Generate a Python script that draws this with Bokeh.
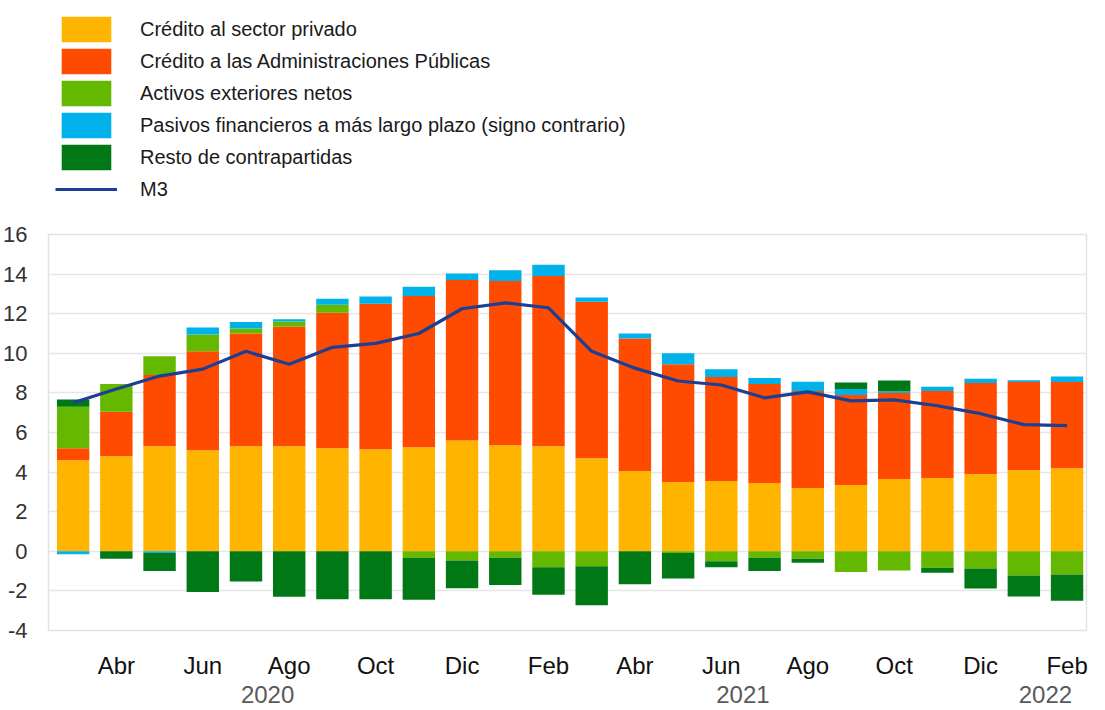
import numpy as np
from bokeh.plotting import figure
from bokeh.layouts import column
from bokeh.models import (ColumnDataSource, FixedTicker, LinearAxis, Legend,
                          LegendItem, Range1d)
from bokeh.embed import file_html
from bokeh.resources import INLINE

# ---------------- data ----------------
months = ["Mar", "Abr", "May", "Jun", "Jul", "Ago", "Sep", "Oct", "Nov", "Dic",
          "Ene", "Feb", "Mar", "Abr", "May", "Jun", "Jul", "Ago", "Sep", "Oct",
          "Nov", "Dic", "Ene", "Feb"]
year_labels = ["2020", "2021", "2022"]
year_pos = [4.5, 15.5, 22.5]

credito_privado = [4.6, 4.8, 5.3, 5.1, 5.3, 5.3, 5.2, 5.15, 5.25, 5.6, 5.35, 5.3,
                   4.7, 4.05, 3.5, 3.55, 3.45, 3.2, 3.35, 3.65, 3.7, 3.9, 4.1, 4.2]
credito_aapp = [0.6, 2.25, 3.6, 5.0, 5.7, 6.05, 6.85, 7.35, 7.65, 8.1, 8.3, 8.6,
                7.9, 6.7, 5.95, 5.25, 5.0, 4.9, 4.55, 4.35, 4.4, 4.6, 4.45, 4.35]
activos_ext = [2.1, 1.4, 0.95, 0.85, 0.25, 0.25, 0.4, 0.0, -0.33, -0.47, -0.33, -0.8,
               -0.75, 0.0, -0.08, -0.5, -0.33, -0.38, -1.05, -0.97, -0.83, -0.87, -1.22, -1.17]
pasivos_lp = [-0.15, 0.0, -0.08, 0.35, 0.33, 0.12, 0.3, 0.37, 0.46, 0.33, 0.55, 0.57,
              0.22, 0.25, 0.55, 0.39, 0.3, 0.46, 0.3, 0.08, 0.21, 0.22, 0.09, 0.28]
resto = [0.37, -0.38, -0.92, -2.05, -1.53, -2.3, -2.42, -2.42, -2.12, -1.4, -1.37, -1.4,
         -1.97, -1.67, -1.3, -0.3, -0.67, -0.2, 0.33, 0.54, -0.25, -1.01, -1.06, -1.33]
m3 = [7.5, 8.2, 8.85, 9.2, 10.1, 9.45, 10.3, 10.5, 11.0, 12.25, 12.55, 12.3,
      10.1, 9.25, 8.6, 8.4, 7.75, 8.05, 7.6, 7.65, 7.35, 6.95, 6.4, 6.35]

series = {
    "priv": ("Crédito al sector privado", credito_privado, "#FFB400"),
    "gov": ("Crédito a las Administraciones Públicas", credito_aapp, "#FF4B00"),
    "ext": ("Activos exteriores netos", activos_ext, "#65B800"),
    "pas": ("Pasivos financieros a más largo plazo (signo contrario)", pasivos_lp, "#00B1EA"),
    "rest": ("Resto de contrapartidas", resto, "#007816"),
}
M3_LABEL = "M3"
M3_COLOR = "#1C3F94"
pos_order = ["priv", "gov", "ext", "pas", "rest"]
neg_order = ["priv", "gov", "pas", "ext", "rest"]
legend_order = ["priv", "gov", "ext", "pas", "rest"]

n = len(months)
x = np.arange(n)

# stacked bottoms / tops (positives up from 0, negatives down from 0)
bounds = {}
acc = np.zeros(n)
for k in pos_order:
    v = np.array(series[k][1], dtype=float)
    pv = np.where(v > 0, v, 0.0)
    bounds[k] = [acc.copy(), acc + pv]
    acc = acc + pv
acc = np.zeros(n)
for k in neg_order:
    v = np.array(series[k][1], dtype=float)
    nv = np.where(v < 0, v, 0.0)
    b, t = bounds[k]
    neg_mask = v < 0
    b = np.where(neg_mask, acc + nv, b)
    t = np.where(neg_mask, acc, t)
    bounds[k] = [b, t]
    acc = acc + nv

bar_sources = {k: ColumnDataSource(dict(x=x, bottom=bounds[k][0], top=bounds[k][1]))
               for k in pos_order}
line_src = ColumnDataSource(dict(x=x, y=m3))

FONT = "Liberation Sans"
W = 1089

# ---------------- legend figure (series drawn outside its view; only legend shows) ----------------
lf = figure(width=W, height=205, x_range=Range1d(1000, 1001), y_range=Range1d(1000, 1001),
            output_backend="svg", toolbar_location=None,
            x_axis_type=None, y_axis_type=None,
            min_border_left=0, min_border_right=0, min_border_top=0, min_border_bottom=0)
lf.outline_line_color = None
lf.xgrid.visible = False
lf.ygrid.visible = False
items = []
for k in legend_order:
    r = lf.vbar(x="x", bottom="bottom", top="top", width=0.75, source=bar_sources[k],
                fill_color=series[k][2], line_color=None)
    items.append(LegendItem(label=series[k][0], renderers=[r]))
rl = lf.line(x="x", y="y", source=line_src, line_color=M3_COLOR, line_width=3.2)
items.append(LegendItem(label=M3_LABEL, renderers=[rl]))
legend = Legend(items=items, location=(7, 0), orientation="vertical",
                glyph_width=62, glyph_height=32, spacing=0, padding=0, margin=0,
                label_standoff=23, label_text_font=FONT, label_text_font_size="20px",
                label_text_color="#1a1a1a", border_line_color=None,
                background_fill_alpha=0)
lf.add_layout(legend, "center")

# ---------------- main figure ----------------
p = figure(width=W, height=504, x_range=Range1d(-0.57, 23.45), y_range=Range1d(-4, 16),
           output_backend="svg", toolbar_location=None,
           min_border_left=42, min_border_right=3, min_border_top=29, min_border_bottom=79)
p.outline_line_color = "#e2e2e2"
p.outline_line_width = 1.5

for k in pos_order:
    p.vbar(x="x", bottom="bottom", top="top", width=0.75, source=bar_sources[k],
           fill_color=series[k][2], line_color=None)

p.line(x="x", y="y", source=line_src, line_color=M3_COLOR, line_width=3.2)

# y axis
yt = list(range(-4, 17, 2))
p.yaxis[0].ticker = FixedTicker(ticks=yt)
p.yaxis[0].major_label_overrides = {t: str(t) for t in yt}
p.yaxis[0].axis_line_color = None
p.yaxis[0].major_tick_line_color = None
p.yaxis[0].minor_tick_line_color = None
p.yaxis[0].major_label_standoff = 15
p.yaxis[0].major_label_text_font = FONT
p.yaxis[0].major_label_text_font_size = "22px"
p.yaxis[0].major_label_text_color = "#333333"

p.ygrid[0].ticker = FixedTicker(ticks=yt)
p.ygrid[0].grid_line_color = "#e6e6e6"
p.ygrid[0].grid_line_width = 1.5
p.xgrid[0].visible = False

# month axis
mt = list(range(1, n, 2))
xa = p.xaxis[0]
xa.ticker = FixedTicker(ticks=mt)
xa.major_label_overrides = {t: months[t] for t in mt}
xa.axis_line_color = None
xa.major_tick_line_color = None
xa.minor_tick_line_color = None
xa.major_tick_out = 0
xa.major_label_standoff = 21
xa.major_label_text_font = FONT
xa.major_label_text_font_size = "24px"
xa.major_label_text_color = "#111111"

# year axis
ya = LinearAxis(ticker=FixedTicker(ticks=year_pos),
                major_label_overrides={yp: yl for yp, yl in zip(year_pos, year_labels)})
ya.axis_line_color = None
ya.major_tick_line_color = None
ya.minor_tick_line_color = None
ya.major_tick_out = 0
ya.major_label_standoff = 4
ya.major_label_text_font = FONT
ya.major_label_text_font_size = "24px"
ya.major_label_text_color = "#595959"
p.add_layout(ya, "below")

layout = column(lf, p)
open("out.html", "w").write(file_html(layout, INLINE))
